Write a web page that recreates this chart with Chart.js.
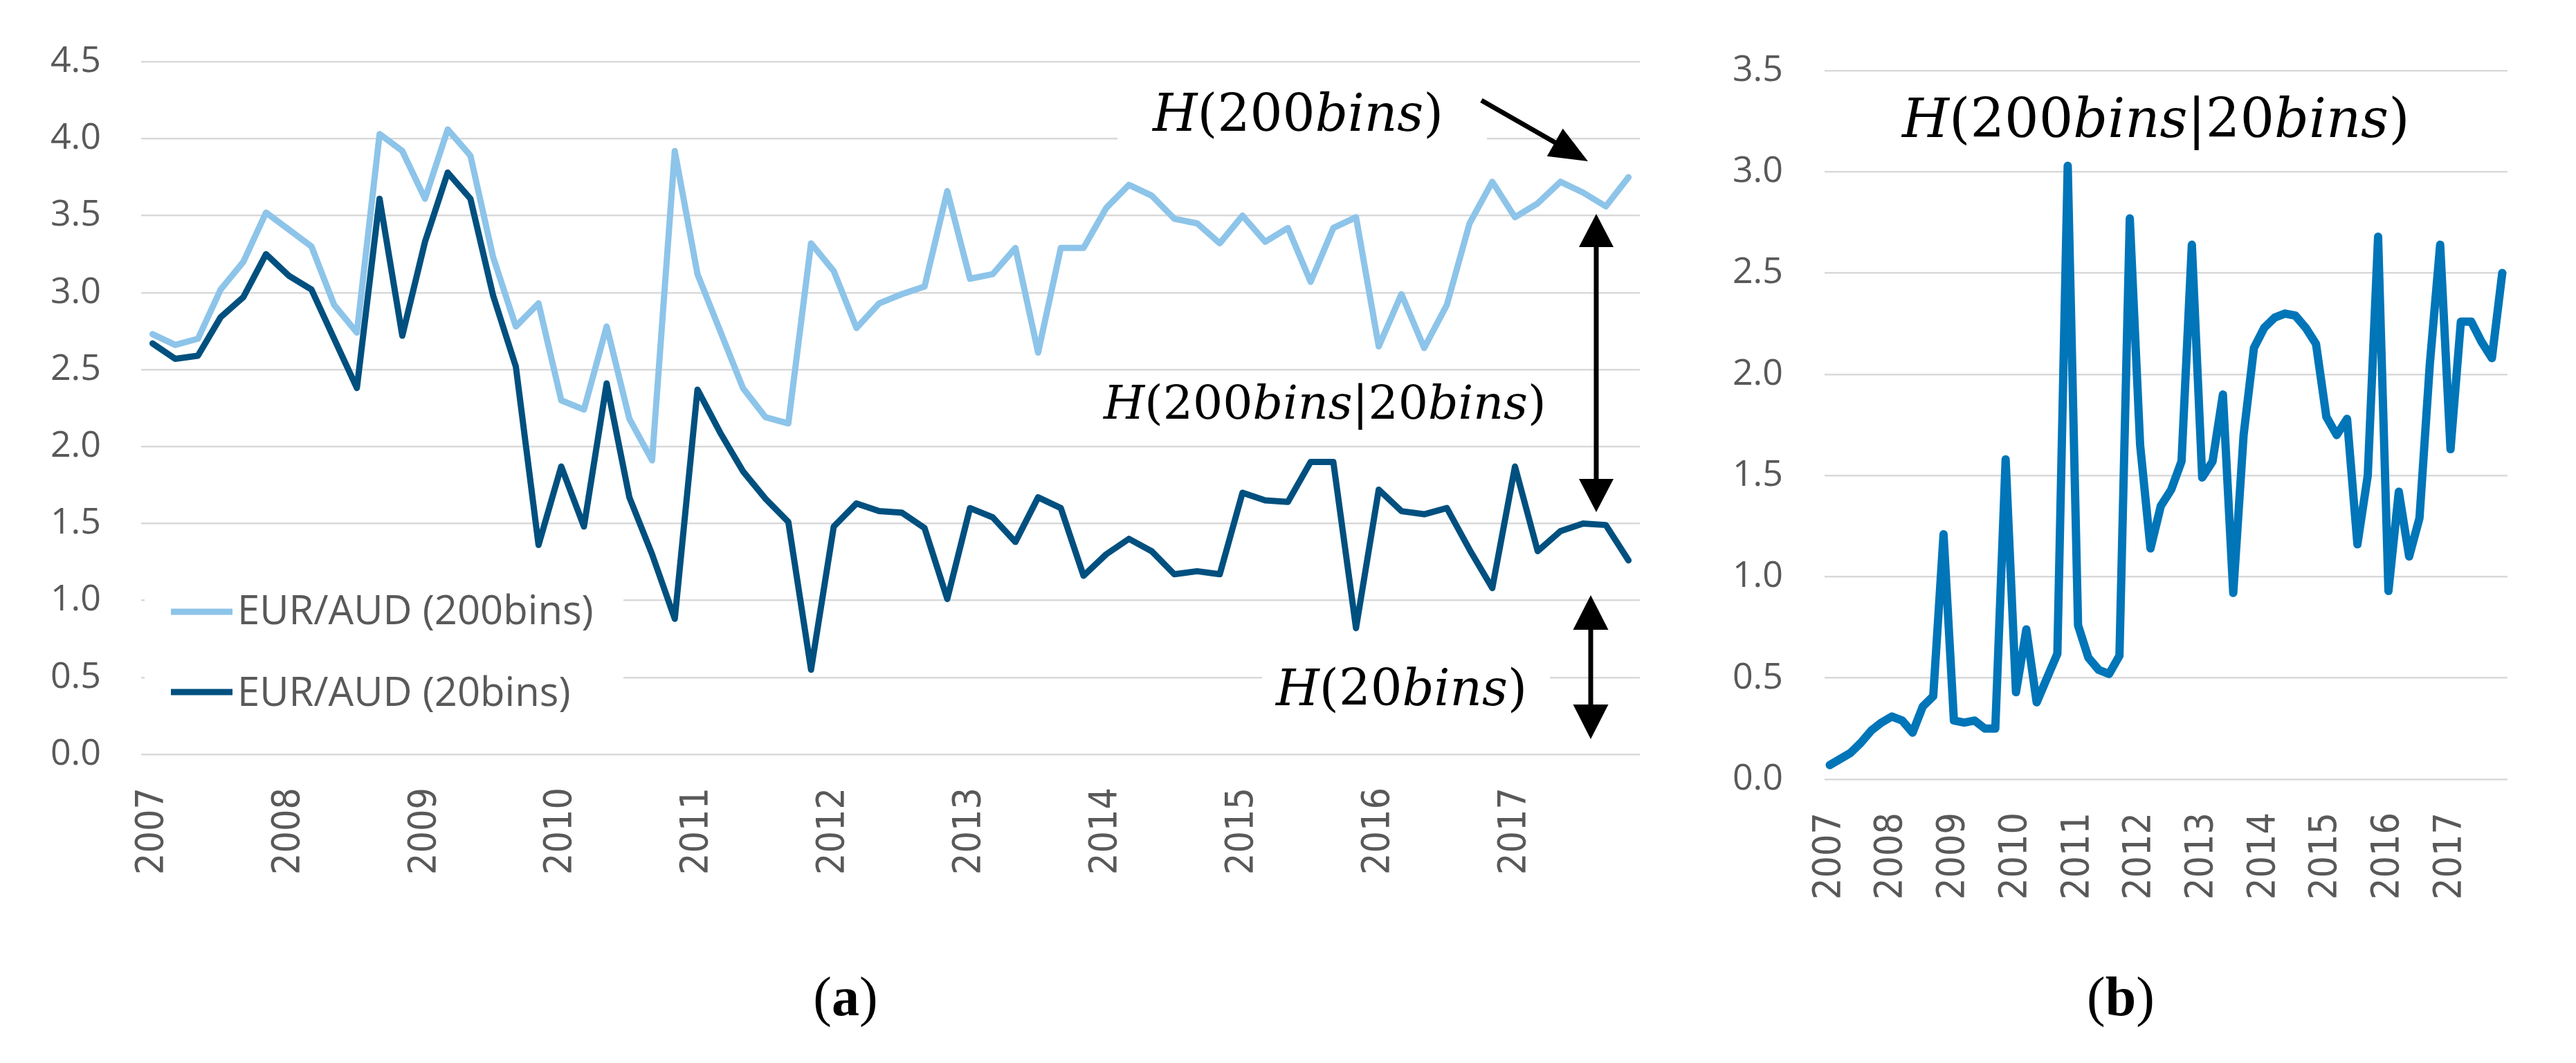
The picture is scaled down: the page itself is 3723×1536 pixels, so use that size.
<!DOCTYPE html>
<html><head><meta charset="utf-8">
<script src="https://cdn.jsdelivr.net/npm/chart.js@4/dist/chart.umd.min.js"></script>
<style>
html,body{margin:0;padding:0;background:#fff;}
#wrap{position:relative;width:3723px;height:1536px;overflow:hidden;background:#fff;}
canvas{position:absolute;top:0;}
.cap{position:absolute;font-family:'Liberation Serif',serif;font-size:80px;line-height:1;color:#000;transform:translateX(-50%);white-space:nowrap;}
.cap b{font-weight:bold;}
</style></head><body>
<div id="wrap">
<canvas id="ca" width="2460" height="1300" style="left:0;width:2460px;height:1300px"></canvas>
<canvas id="cb" width="1263" height="1300" style="left:2460px;width:1263px;height:1300px"></canvas>
<div class="cap" style="left:1222px;top:1400px">(<b>a</b>)</div>
<div class="cap" style="left:3065px;top:1400px">(<b>b</b>)</div>
</div>
<script>
// ---- data ----
const years = ['2007','2008','2009','2010','2011','2012','2013','2014','2015','2016','2017'];
const months = ['Jan','Mar','May','Jul','Sep','Nov'];
const seriesNames = ['EUR/AUD (200bins)', 'EUR/AUD (20bins)'];
const h200 = [2.73,2.66,2.70,3.02,3.20,3.52,3.41,3.30,2.92,2.74,4.03,3.92,3.61,4.06,3.89,3.23,2.78,2.93,2.30,2.24,2.78,2.18,
              1.91,3.92,3.12,2.75,2.38,2.19,2.15,3.32,3.14,2.77,2.93,2.99,3.04,3.66,3.09,3.12,3.29,2.61,3.29,3.29,3.55,3.70,
              3.63,3.48,3.45,3.32,3.50,3.33,3.42,3.07,3.42,3.49,2.65,2.99,2.64,2.92,3.45,3.72,3.49,3.58,3.72,3.65,3.56,3.75];
const h20 = [2.67,2.57,2.59,2.84,2.97,3.25,3.11,3.02,2.70,2.38,3.61,2.72,3.33,3.78,3.61,2.98,2.52,1.36,1.87,1.48,2.41,1.67,
             1.30,0.88,2.37,2.09,1.84,1.66,1.51,0.55,1.48,1.63,1.58,1.57,1.47,1.01,1.60,1.54,1.38,1.67,1.60,1.16,1.30,1.40,
             1.32,1.17,1.19,1.17,1.70,1.65,1.64,1.90,1.90,0.82,1.72,1.58,1.56,1.60,1.33,1.08,1.87,1.32,1.45,1.50,1.49,1.26];
const hCond = [0.07,0.10,0.13,0.18,0.24,0.28,0.31,0.29,0.23,0.36,0.41,1.21,0.29,0.28,0.29,0.25,0.25,1.58,0.43,0.74,0.38,0.50,
               0.62,3.03,0.76,0.60,0.54,0.52,0.61,2.77,1.65,1.14,1.35,1.43,1.57,2.64,1.49,1.57,1.90,0.92,1.70,2.13,2.23,2.28,
               2.30,2.29,2.23,2.15,1.79,1.70,1.78,1.16,1.50,2.68,0.93,1.42,1.10,1.29,2.05,2.64,1.63,2.26,2.26,2.16,2.08,2.50];
const categories = years.flatMap(y => months.map(m => m + ' ' + y));

// ---- helpers ----
const GREY = '#595959';
function drawMath(ctx, parts, x, y, size) {
  let cx = x;
  ctx.fillStyle = '#000';
  ctx.textBaseline = 'alphabetic';
  ctx.textAlign = 'left';
  for (const [t, it] of parts) {
    ctx.font = (it ? 'italic ' : '') + size + 'px "DejaVu Serif"';
    ctx.fillText(t, cx, y);
    cx += ctx.measureText(t).width;
  }
}
function head(ctx, tx, ty, dx, dy, len, w) {
  const bx = tx - dx * len, by = ty - dy * len, px = -dy, py = dx;
  ctx.beginPath();
  ctx.moveTo(tx, ty);
  ctx.lineTo(bx + px * w / 2, by + py * w / 2);
  ctx.lineTo(bx - px * w / 2, by - py * w / 2);
  ctx.closePath();
  ctx.fill();
}
function arrow(ctx, x1, y1, x2, y2, len, w, lw, both) {
  const L = Math.hypot(x2 - x1, y2 - y1), dx = (x2 - x1) / L, dy = (y2 - y1) / L;
  ctx.save();
  ctx.strokeStyle = '#000'; ctx.fillStyle = '#000'; ctx.lineWidth = lw;
  ctx.beginPath();
  ctx.moveTo(both ? x1 + dx * len * 0.8 : x1, both ? y1 + dy * len * 0.8 : y1);
  ctx.lineTo(x2 - dx * len * 0.8, y2 - dy * len * 0.8);
  ctx.stroke();
  head(ctx, x2, y2, dx, dy, len, w);
  if (both) head(ctx, x1, y1, -dx, -dy, len, w);
  ctx.restore();
}

const leftDecor = {
  id: 'leftDecor',
  afterDraw(chart) {
    const ctx = chart.ctx;
    ctx.save();
    // white boxes behind text (hide gridlines)
    ctx.fillStyle = '#fff';
    ctx.fillRect(209, 835, 692, 200);
    ctx.fillRect(1615, 120, 534, 95);
    ctx.fillRect(1824, 950, 416, 90);
    // legend built from the datasets
    const ys = [884, 1000], bs = [902, 1020];
    chart.data.datasets.forEach((ds, i) => {
      ctx.strokeStyle = ds.borderColor; ctx.lineWidth = ds.borderWidth; ctx.lineCap = 'butt';
      ctx.beginPath(); ctx.moveTo(247, ys[i]); ctx.lineTo(336, ys[i]); ctx.stroke();
      ctx.fillStyle = GREY; ctx.font = '58px "Open Sans"'; ctx.textBaseline = 'alphabetic'; ctx.textAlign = 'left';
      ctx.fillText(ds.label, 343, bs[i]);
    });
    // annotations
    drawMath(ctx, [['H', true], ['(200', false], ['bins', true], [')', false]], 1666, 189, 74);
    drawMath(ctx, [['H', true], ['(200', false], ['bins', true], ['|20', false], ['bins', true], [')', false]], 1595, 605, 68);
    drawMath(ctx, [['H', true], ['(20', false], ['bins', true], [')', false]], 1844, 1019, 72);
    arrow(ctx, 2141, 145, 2295, 233, 55, 46, 7, false);
    arrow(ctx, 2307, 309, 2307, 740, 48, 50, 7, true);
    arrow(ctx, 2299, 860, 2299, 1068, 50, 51, 7, true);
    ctx.restore();
  }
};
const rightDecor = {
  id: 'rightDecor',
  afterDraw(chart) {
    const ctx = chart.ctx;
    ctx.save();
    drawMath(ctx, [['H', true], ['(200', false], ['bins', true], ['|20', false], ['bins', true], [')', false]], 289, 198, 78);
    ctx.restore();
  }
};

function xScale(h, pad) {
  return {
    type: 'category', offset: true,
    grid: { display: false }, border: { display: false },
    ticks: {
      autoSkip: false, maxRotation: 90, minRotation: 90, padding: pad,
      color: GREY, font: { family: '"DejaVu Sans Condensed", "DejaVu Sans"', size: 55 },
      callback: (v, i) => (i % months.length === 0 ? years[i / months.length] : '')
    },
    afterFit: s => { s.height = h; }
  };
}
function yScale(max, w, pad) {
  return {
    min: 0, max: max,
    grid: { color: '#d9d9d9', lineWidth: 2.5, drawTicks: false }, border: { display: false },
    ticks: { stepSize: 0.5, padding: pad, color: GREY, font: { family: 'Open Sans', size: 52 },
             callback: v => Number(v).toFixed(1) },
    afterFit: s => { s.width = w; }
  };
}

new Chart(document.getElementById('ca'), {
  type: 'line',
  data: {
    labels: categories,
    datasets: [
      { label: seriesNames[0], data: h200, borderColor: '#8DC4E9', borderWidth: 9, pointRadius: 0, tension: 0,
        borderJoinStyle: 'round', borderCapStyle: 'round' },
      { label: seriesNames[1], data: h20, borderColor: '#00507F', borderWidth: 9, pointRadius: 0, tension: 0,
        borderJoinStyle: 'round', borderCapStyle: 'round' }
    ]
  },
  options: {
    responsive: false, animation: false, devicePixelRatio: 1,
    layout: { padding: { left: 0, top: 79, right: 47, bottom: 0 } },
    plugins: { legend: { display: false }, tooltip: { enabled: false } },
    scales: { x: xScale(210, 40), y: yScale(4.5, 204, 58) }
  },
  plugins: [leftDecor]
});

new Chart(document.getElementById('cb'), {
  type: 'line',
  data: {
    labels: categories,
    datasets: [
      { label: 'H(200bins|20bins)', data: hCond, borderColor: '#0075B8', borderWidth: 12, pointRadius: 0, tension: 0,
        borderJoinStyle: 'round', borderCapStyle: 'round' }
    ]
  },
  options: {
    responsive: false, animation: false, devicePixelRatio: 1,
    layout: { padding: { left: 0, top: 102, right: 78, bottom: 0 } },
    plugins: { legend: { display: false }, tooltip: { enabled: false } },
    scales: { x: xScale(174, 40), y: yScale(3.5, 177, 60) }
  },
  plugins: [rightDecor]
});
</script>
</body></html>
